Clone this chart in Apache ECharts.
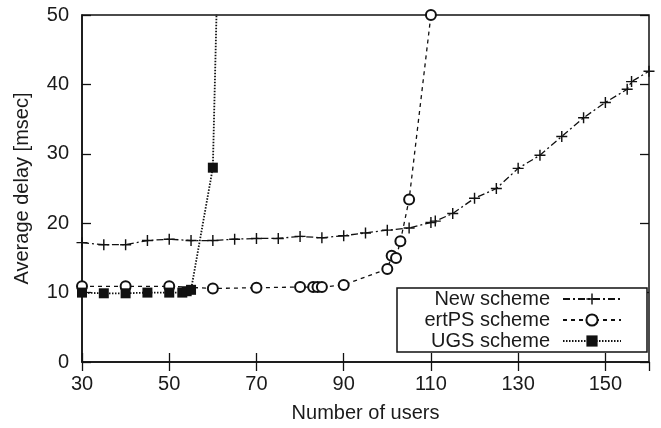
<!DOCTYPE html>
<html>
<head>
<meta charset="utf-8">
<script src="https://cdn.jsdelivr.net/npm/echarts@6/dist/echarts.min.js"></script>
<style>
html,body{margin:0;padding:0;background:#fff;}
#chart{width:661px;height:428px;}
</style>
</head>
<body>
<div id="chart"></div>
<script>
const newX = [30,35,40,45,50,55,60,65,70,75,80,85,90,95,100,105,110,111,115,120,125,130,135,140,145,150,155,156,160];
const newY = [17.2,16.9,16.9,17.5,17.7,17.5,17.5,17.7,17.8,17.8,18.1,17.9,18.2,18.6,19.0,19.3,20.1,20.3,21.4,23.6,25.0,27.9,29.8,32.5,35.2,37.4,39.3,40.4,41.9];
const ertX = [30,40,50,60,70,80,83,84,85,90,100,101,102,103,105,110];
const ertY = [10.9,10.9,10.9,10.6,10.7,10.8,10.8,10.8,10.8,11.1,13.4,15.3,15.0,17.4,23.4,50];
const ugsX = [30,35,40,45,50,53,54,55,60,65];
const ugsY = [10.0,9.9,9.9,10.0,10.0,10.0,10.2,10.4,28.0,160];
const xTicks = {min:30, max:160, interval:20};
const yTicks = {min:0, max:50, interval:10};

function pairs(xs, ys){ return xs.map((x,i)=>[x, ys[i]]); }

const FONT = 'Liberation Sans, Arial, sans-serif';
const FS = 20;
const TXT = '#1a1a1a';
const chart = echarts.init(document.getElementById('chart'));
const plus = 'path://M4.35,0H5.65V4.35H10V5.65H5.65V10H4.35V5.65H0V4.35H4.35Z';

chart.setOption({
  animation:false,
  backgroundColor:'#fff',
  grid:{left:82, right:12, top:15, bottom:66, show:true, borderColor:'#111', borderWidth:1.5},
  xAxis:[{
    type:'value', min:xTicks.min, max:xTicks.max, interval:xTicks.interval,
    name:'Number of users', nameLocation:'middle', nameGap:41,
    nameTextStyle:{fontFamily:FONT, fontSize:FS, color:TXT},
    axisLine:{show:true, onZero:false, lineStyle:{color:'#111', width:1.5}},
    axisTick:{inside:true, length:9, lineStyle:{color:'#111', width:1.3}},
    axisLabel:{fontFamily:FONT, fontSize:FS, color:TXT, margin:12, showMaxLabel:false},
    splitLine:{show:false}
  },{
    type:'value', position:'top', min:xTicks.min, max:xTicks.max, interval:xTicks.interval,
    axisLine:{show:false},
    axisTick:{inside:true, length:9, lineStyle:{color:'#111', width:1.3}},
    axisLabel:{show:false}, splitLine:{show:false}
  }],
  yAxis:[{
    type:'value', min:yTicks.min, max:yTicks.max, interval:yTicks.interval,
    name:'Average delay [msec]', nameLocation:'middle', nameGap:50,
    nameTextStyle:{fontFamily:FONT, fontSize:FS, color:TXT},
    axisLine:{show:true, lineStyle:{color:'#111', width:1.5}},
    axisTick:{inside:true, length:9, lineStyle:{color:'#111', width:1.3}},
    axisLabel:{fontFamily:FONT, fontSize:FS, color:TXT, margin:13},
    splitLine:{show:false}
  },{
    type:'value', position:'right', min:yTicks.min, max:yTicks.max, interval:yTicks.interval,
    axisLine:{show:false},
    axisTick:{inside:true, length:9, lineStyle:{color:'#111', width:1.3}},
    axisLabel:{show:false}, splitLine:{show:false}
  }],
  legend:{
    orient:'vertical', right:14, top:288, align:'right',
    backgroundColor:'#fff', borderColor:'#111', borderWidth:1.5, borderRadius:0,
    padding:[1,25,1,7], itemGap:1, itemWidth:58, itemHeight:14,
    textStyle:{fontFamily:FONT, fontSize:FS, lineHeight:20, color:TXT, width:146, align:'right', padding:[0,8,0,0]},
    data:['New scheme','ertPS scheme','UGS scheme']
  },
  series:[{
    name:'New scheme', type:'line', data:pairs(newX,newY), clip:true,
    symbol:plus, symbolSize:11,
    itemStyle:{color:'#111'},
    lineStyle:{color:'#111', width:1.3, type:[7,3,2,3]}
  },{
    name:'ertPS scheme', type:'line', data:pairs(ertX,ertY), clip:true,
    symbol:'emptyCircle', symbolSize:10,
    itemStyle:{color:'#111', borderWidth:1.1},
    lineStyle:{color:'#111', width:1.3, type:[4,4]}
  },{
    name:'UGS scheme', type:'line', data:pairs(ugsX,ugsY), clip:true,
    symbol:'rect', symbolSize:10,
    itemStyle:{color:'#111'},
    lineStyle:{color:'#111', width:1.8, type:[1.5,1.5]}
  }]
});
</script>
</body>
</html>
